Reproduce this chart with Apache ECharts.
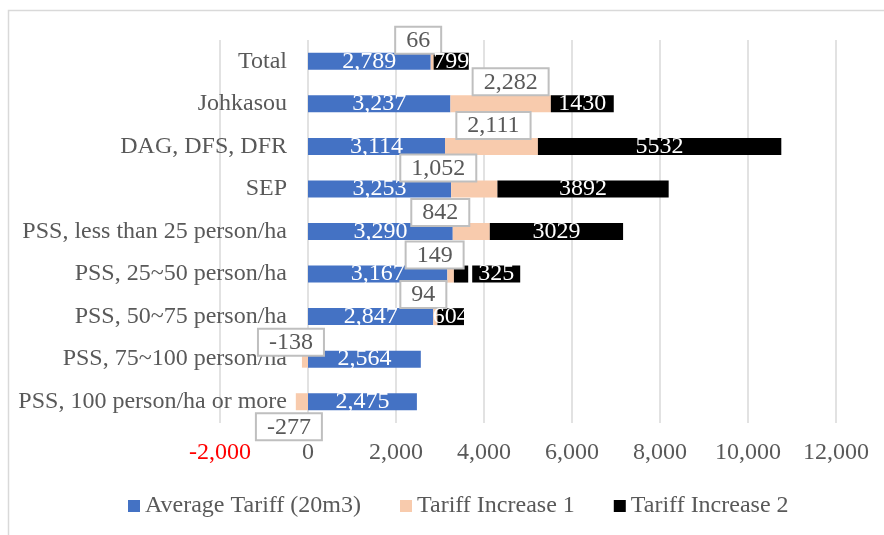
<!DOCTYPE html>
<html>
<head>
<meta charset="utf-8">
<script src="https://cdn.jsdelivr.net/npm/echarts@6/dist/echarts.min.js"></script>
<style>
  html, body { margin: 0; padding: 0; background: #fff; }
  #main { width: 884px; height: 535px; }
</style>
</head>
<body>
<div id="main"></div>
<script>
// 类别（从上到下）
const categories = [
  'Total',
  'Johkasou',
  'DAG, DFS, DFR',
  'SEP',
  'PSS, less than 25 person/ha',
  'PSS, 25~50 person/ha',
  'PSS, 50~75 person/ha',
  'PSS, 75~100 person/ha',
  'PSS, 100 person/ha or more'
];
const averageTariff = [2789, 3237, 3114, 3253, 3290, 3167, 2847, 2564, 2475];
const tariffIncrease1 = [66, 2282, 2111, 1052, 842, 149, 94, -138, -277];
const tariffIncrease2 = [799, 1430, 5532, 3892, 3029, 325, 604, null, null];
const seriesNames = ['Average Tariff (20m3)', 'Tariff Increase 1', 'Tariff Increase 2'];
const xMin = -2000;
const xMax = 12000;
const xStep = 2000;

// callout nudges for the "Increase 1" labels (layout only)
const inc1Offsets = [[-14, 0], [10, -1], [2, 0], [-36, 0], [-31, 2], [-16, 2], [-12, -1], [-14, 4], [-13, 4]];

const FONT = "'Liberation Serif', 'Times New Roman', serif";
const GRAY = '#595959';
const GRID_GRAY = '#d9d9d9';
const FS = 24;
const GRID_LEFT = 220;
const GRID_RIGHT = 48;
const CHART_W = 884;

function comma(v) {
  const s = String(Math.abs(Math.round(v)));
  const out = s.replace(/\B(?=(\d{3})+(?!\d))/g, ',');
  return (v < 0 ? '-' : '') + out;
}

// 类别轴放在 0 的位置（向右偏移）
const zeroShift = (0 - xMin) / (xMax - xMin) * (CHART_W - GRID_LEFT - GRID_RIGHT);

const inc1Data = tariffIncrease1.map((v, i) => ({
  value: v,
  label: {
    position: v < 0 && i === tariffIncrease1.length - 1 ? 'bottom' : 'top',
    offset: inc1Offsets[i]
  }
}));

// 325 的标签在柱子右边，黑底
const inc2Data = tariffIncrease2.map(v => {
  if (v === 325) {
    return {
      value: v,
      label: { position: 'right', distance: 4, backgroundColor: '#000', padding: [0, 6, 0, 6], lineHeight: 17 }
    };
  }
  return v;
});

let myChart = echarts.init(document.getElementById('main'));
myChart.setOption({
  animation: false,
  backgroundColor: '#fff',
  textStyle: { fontFamily: FONT },
  graphic: [{
    type: 'rect',
    z: -1,
    shape: { x: 8.5, y: 10.5, width: 1000, height: 700 },
    style: { fill: 'none', stroke: GRID_GRAY, lineWidth: 1.5 }
  }],
  grid: { left: GRID_LEFT, right: GRID_RIGHT, top: 40, bottom: 112, containLabel: false, outerBoundsMode: 'none' },
  legend: {
    left: 123,
    top: 489,
    itemWidth: 12,
    itemHeight: 12,
    itemGap: 39,
    icon: 'rect',
    textStyle: { fontFamily: FONT, fontSize: FS, color: GRAY },
    data: seriesNames
  },
  xAxis: {
    type: 'value',
    min: xMin,
    max: xMax,
    interval: xStep,
    axisLine: { show: false },
    axisTick: { show: false },
    splitLine: { lineStyle: { color: GRID_GRAY, width: 1.5 } },
    axisLabel: {
      margin: 18,
      fontFamily: FONT,
      fontSize: FS,
      color: v => (v < 0 ? '#ff0000' : GRAY),
      formatter: v => comma(v)
    }
  },
  yAxis: {
    type: 'category',
    inverse: true,
    position: 'left',
    offset: -zeroShift,
    data: categories,
    axisLine: { show: false },
    axisTick: { show: false },
    axisLabel: { margin: 21, fontFamily: FONT, fontSize: FS, color: GRAY }
  },
  series: [
    {
      name: seriesNames[0],
      type: 'bar',
      stack: 'total',
      barWidth: 17,
      itemStyle: { color: '#4472C4' },
      label: {
        show: true,
        position: 'inside',
        color: '#fff',
        fontFamily: FONT,
        fontSize: FS,
        formatter: p => comma(p.value)
      },
      data: averageTariff
    },
    {
      name: seriesNames[1],
      type: 'bar',
      stack: 'total',
      barWidth: 17,
      itemStyle: { color: '#F8CBAD' },
      label: {
        show: true,
        position: 'top',
        distance: 0,
        color: GRAY,
        fontFamily: FONT,
        fontSize: FS,
        lineHeight: 22,
        backgroundColor: '#fff',
        borderColor: '#bfbfbf',
        borderWidth: 2,
        padding: [2, 10, 1, 10],
        formatter: p => comma(p.value)
      },
      data: inc1Data
    },
    {
      name: seriesNames[2],
      type: 'bar',
      stack: 'total',
      barWidth: 17,
      itemStyle: { color: '#000' },
      label: {
        show: true,
        position: 'inside',
        color: '#fff',
        fontFamily: FONT,
        fontSize: FS,
        formatter: p => (p.value == null ? '' : String(p.value))
      },
      data: inc2Data
    }
  ]
});
</script>
</body>
</html>
